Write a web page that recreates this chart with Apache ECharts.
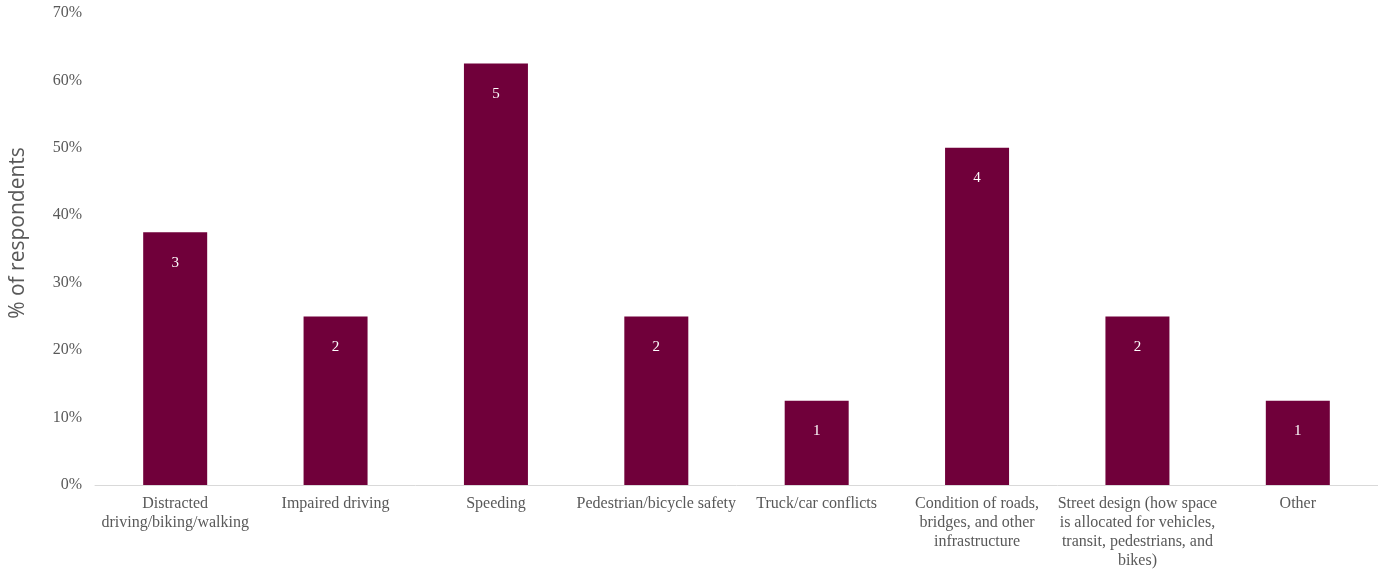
<!DOCTYPE html>
<html>
<head>
<meta charset="utf-8">
<script src="https://cdn.jsdelivr.net/npm/echarts@6/dist/echarts.min.js"></script>
<style>html,body{margin:0;padding:0;background:#fff}#c{width:1378px;height:571px}</style>
</head>
<body>
<div id="c"></div>
<script>
var categories = [
  "Distracted\ndriving/biking/walking",
  "Impaired driving",
  "Speeding",
  "Pedestrian/bicycle safety",
  "Truck/car conflicts",
  "Condition of roads,\nbridges, and other\ninfrastructure",
  "Street design (how space\nis allocated for vehicles,\ntransit, pedestrians, and\nbikes)",
  "Other"
];
var percentValues = [37.5, 25, 62.5, 25, 12.5, 50, 25, 12.5];
var countLabels = [3, 2, 5, 2, 1, 4, 2, 1];
var yTicks = { min: 0, max: 70, interval: 10 };

var chart = echarts.init(document.getElementById('c'), null, { renderer: 'canvas' });
chart.setOption({
  animation: false,
  backgroundColor: '#ffffff',
  grid: { left: 95, right: 0, top: 13, bottom: 86, containLabel: false },
  xAxis: {
    type: 'category',
    data: categories,
    axisLine: { lineStyle: { color: '#d9d9d9', width: 1 } },
    axisTick: { show: false },
    axisLabel: {
      interval: 0,
      color: '#595959',
      fontFamily: 'Liberation Serif',
      fontSize: 16,
      lineHeight: 19,
      margin: 9,
      align: 'center'
    }
  },
  yAxis: {
    type: 'value',
    min: yTicks.min,
    max: yTicks.max,
    interval: yTicks.interval,
    name: '% of respondents',
    nameLocation: 'middle',
    nameGap: 66,
    nameTextStyle: { color: '#595959', fontFamily: 'Open Sans', fontSize: 21, padding: [0, 0, 0, 32] },
    axisLine: { show: false },
    axisTick: { show: false },
    splitLine: { show: false },
    axisLabel: {
      color: '#595959',
      fontFamily: 'Liberation Serif',
      fontSize: 16,
      margin: 13,
      formatter: function (v) { return v + '%'; }
    }
  },
  series: [{
    type: 'bar',
    data: percentValues,
    barWidth: 64,
    itemStyle: { color: '#70003a' },
    label: {
      show: true,
      position: 'insideTop',
      distance: 23,
      color: '#ffffff',
      fontFamily: 'Liberation Serif',
      fontSize: 15,
      formatter: function (p) { return countLabels[p.dataIndex]; }
    }
  }]
});
</script>
</body>
</html>
